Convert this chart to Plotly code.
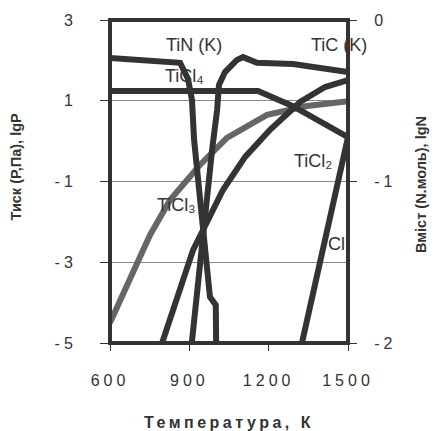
import plotly.graph_objects as go

# ---- data ----
# temperature in K, left-axis values lgP
T_tin = [600, 865, 895, 910, 918, 952, 978, 1000, 1002]
lg_tin = [2.06, 1.94, 1.54, 1.02, 0.03, -2.13, -3.86, -4.06, -5.5]

T_tic = [906, 952, 986, 1005, 1012, 1035, 1080, 1103, 1156, 1292, 1394, 1500]
lg_tic = [-5.2, -2.13, -0.22, 0.77, 1.39, 1.71, 2.01, 2.08, 1.94, 1.91, 1.81, 1.71]

T_ticl4 = [600, 1160, 1290, 1500]
lg_ticl4 = [1.24, 1.24, 0.87, 0.1]

T_ticl2 = [797, 914, 1027, 1111, 1205, 1319, 1413, 1500]
lg_ticl2 = [-5.0, -2.70, -1.21, -0.39, 0.28, 0.97, 1.34, 1.51]

T_ticl3 = [600, 751, 827, 940, 1042, 1194, 1345, 1500]
lg_ticl3 = [-4.5, -2.33, -1.46, -0.59, 0.08, 0.65, 0.87, 0.99]

T_cl = [1319, 1500]
lg_cl = [-5.2, 0.1]

x_ticks = [600, 900, 1200, 1500]
y_ticks = [-5, -3, -1, 1, 3]
y2_ticks = [-2, -1, 0]

label_texts = ["TiN (K)", "TiC (K)", "TiCl₄", "TiCl₂", "TiCl₃", "Cl"]
label_T = [918, 1466, 880, 1367, 852, 1455]
label_lg = [2.38, 2.38, 1.62, -0.48, -1.57, -2.56]

DARK = "#333333"
GRAY = "#666666"
FONT = "Liberation Sans, Arial, sans-serif"


def ls(s, px):
    return f'<span style="letter-spacing:{px}px">{s}</span>'


fig = go.Figure()

series = [
    (T_ticl3, lg_ticl3, GRAY),
    (T_ticl4, lg_ticl4, DARK),
    (T_ticl2, lg_ticl2, DARK),
    (T_tin, lg_tin, DARK),
    (T_tic, lg_tic, DARK),
    (T_cl, lg_cl, DARK),
]
for xs, ys, c in series:
    fig.add_trace(go.Scatter(x=xs, y=ys, mode="lines",
                             line=dict(color=c, width=6),
                             hoverinfo="skip", showlegend=False))

# right axis (lgN) carries no marks of its own; attach an empty trace so it is drawn
fig.add_trace(go.Scatter(x=[], y=[], yaxis="y2", mode="lines",
                         hoverinfo="skip", showlegend=False))

annotations = [
    dict(text=t, x=xv, y=yv, xref="x", yref="y", showarrow=False,
         xanchor="center", yanchor="middle",
         font=dict(family=FONT, size=18, color=DARK))
    for t, xv, yv in zip(label_texts, label_T, label_lg)
]
annotations += [
    dict(text="<b>" + ls("Температура, К", 3.5) + "</b>", xref="paper", yref="paper",
         x=0.5, y=-0.2446, showarrow=False, xanchor="center", yanchor="middle",
         font=dict(size=16, color=DARK)),
    dict(text="<b>Тиск (P,Па), lgP</b>", xref="paper", yref="paper",
         x=-0.391, y=0.5465, showarrow=False, textangle=-90,
         xanchor="center", yanchor="middle", font=dict(size=14.5, color=DARK)),
    dict(text="<b>Вміст (N.моль), lgN</b>", xref="paper", yref="paper",
         x=1.307, y=0.489, showarrow=False, textangle=-90,
         xanchor="center", yanchor="middle", font=dict(size=14.5, color=DARK)),
]

fig.update_layout(
    width=438, height=431,
    margin=dict(l=110, r=90, t=20, b=88),
    paper_bgcolor="white", plot_bgcolor="white",
    font=dict(family=FONT, color=DARK),
    showlegend=False,
    xaxis=dict(range=[600, 1500], tickvals=x_ticks,
               ticktext=[ls(str(v), 4) for v in x_ticks],
               ticks="outside", ticklen=7, tickcolor=DARK, tickwidth=1,
               showgrid=False, zeroline=False, showline=False,
               tickfont=dict(size=16, color=DARK), ticklabelstandoff=16),
    yaxis=dict(range=[-5, 3], tickvals=y_ticks,
               ticktext=[ls(str(v), 4) for v in y_ticks],
               ticks="outside", ticklen=9, tickcolor=DARK, tickwidth=1,
               showgrid=True, gridcolor="#8a8a8a", gridwidth=1,
               zeroline=False, showline=False,
               tickfont=dict(size=16, color=DARK), ticklabelstandoff=20),
    yaxis2=dict(range=[-2, 0], tickvals=y2_ticks,
                ticktext=[ls(str(v), 4) for v in y2_ticks],
                overlaying="y", side="right", anchor="x",
                ticks="outside", ticklen=8, tickcolor=DARK, tickwidth=1,
                showgrid=False, zeroline=False, showline=False,
                tickfont=dict(size=16, color=DARK), ticklabelstandoff=14),
    shapes=[dict(type="rect", xref="paper", yref="paper", x0=0, x1=1, y0=0, y1=1,
                 line=dict(color=DARK, width=4), layer="above")],
    annotations=annotations,
)

fig.write_html("out.html")
